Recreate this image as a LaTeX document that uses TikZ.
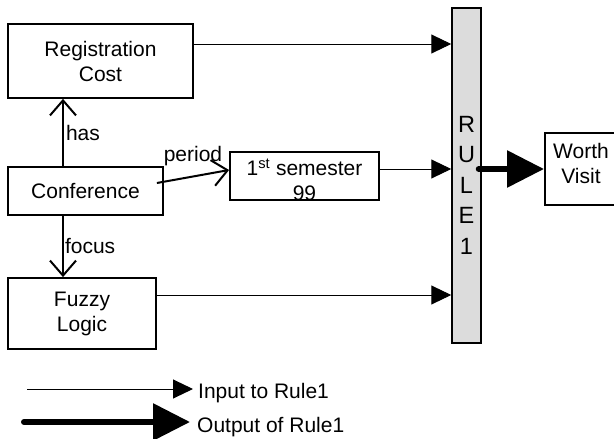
\documentclass[tikz,border=0pt]{standalone}
\usepackage{fontspec}
\setmainfont{Liberation Sans}
\usetikzlibrary{arrows.meta}
\definecolor{rulegray}{HTML}{DCDCDC}

\tikzset{
  box/.style={draw, line width=1.8pt, align=center, inner sep=0pt},
  rulebar/.style={draw, line width=1.5pt, fill=rulegray, inner sep=0pt},
  inarrow/.style={line width=1pt, -{Triangle[length=20pt,width=19pt]}},
  outarrow/.style={line width=6pt, line cap=round, -{Triangle[length=37pt,width=36pt]}},
  relarrow/.style={line width=2pt, -{Straight Barb[length=15pt,width=26pt,line width=2pt]}}
}

\begin{document}
\begin{tikzpicture}[x=1pt, y=-1pt, font=\fontsize{21}{25}\selectfont]
        \useasboundingbox (0,0) rectangle (614,439);
        \node[box, minimum width=185pt, minimum height=74pt] (reg) at (100.5,61) {Registration\\Cost};
        \node[box, minimum width=155pt, minimum height=48pt] (conf) at (85.5,191) {Conference};
        \node[box, minimum width=149pt, minimum height=48pt] (sem) at (304.5,176) {};
        \node[align=center, inner sep=0pt] (semtxt) at (304.5,180) {1\textsuperscript{st} semester\\99};
        \node[box, minimum width=148pt, minimum height=71pt] (fuzzy) at (82,313.5) {Fuzzy\\Logic};
        \node[rulebar, minimum width=29pt, minimum height=335pt] (rule) at (466.5,175.5) {};
        \node[align=center, font=\fontsize{23.5}{30.5}\selectfont] (ruletxt) at (466.5,185) {R\\U\\L\\E\\1};
        \node[box, minimum width=90pt, minimum height=72pt, anchor=west] (worth) at (544,169) {};
        \node[align=center] (worthtxt) at (581,163) {Worth\\Visit};

        \draw[inarrow] ([yshift=17pt]reg.east) -- ([yshift=17pt]reg.east -| rule.west);
        \draw[inarrow] ([yshift=7pt]sem.east) -- ([yshift=7pt]sem.east -| rule.west);
        \draw[inarrow] ([yshift=18.5pt]fuzzy.east) -- ([yshift=18.5pt]fuzzy.east -| rule.west);
        \draw[outarrow] ([xshift=-3pt]rule.east |- worth.west) -- (worth.west);

        \draw[relarrow] ([xshift=-22.5pt]conf.north) -- ([xshift=-22.5pt]conf.north |- reg.south)
          node[midway, right, inner sep=2pt] (has) {has};
        \draw[relarrow] ([xshift=-22.5pt]conf.south) -- ([xshift=-22.5pt]conf.south |- fuzzy.north)
          node[midway, right, inner sep=1pt] (focus) {focus};
        \draw[relarrow] ([xshift=-7pt,yshift=8pt]conf.east) -- ([yshift=6pt]sem.west)
          node[midway, above=9pt, inner sep=1pt] (period) {period};

        \coordinate (in0) at (27,389);
        \coordinate (out0) at (24,422);
        \node[anchor=west, inner sep=0pt] (intxt) at (198,393) {Input to Rule1};
        \node[anchor=west, inner sep=0pt] (outtxt) at (197,427) {Output of Rule1};
        \draw[inarrow] (in0) -- ([xshift=-5pt]in0 -| intxt.west);
        \draw[outarrow] (out0) -- ([xshift=-7pt]out0 -| outtxt.west);
      \end{tikzpicture}
\end{document}
